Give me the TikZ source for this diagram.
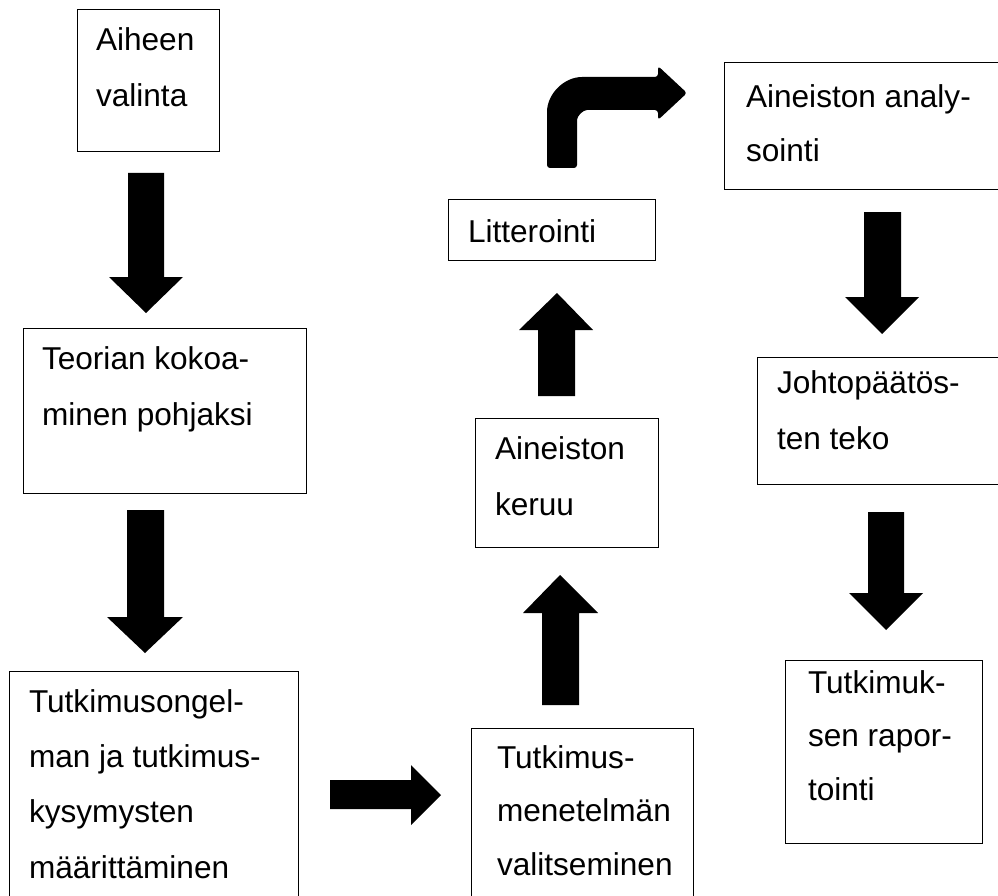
\documentclass[tikz,border=0pt]{standalone}
\usepackage{fontspec}
\setmainfont{Liberation Sans}
\begin{document}
\begin{tikzpicture}[x=1pt,y=-1pt,
  box/.style={draw=black, line width=1pt, inner sep=0pt, outer sep=0pt, anchor=north west},
  lbl/.style={anchor=north west, inner sep=0pt, outer sep=0pt, align=left},
  blk/.style={fill=black, draw=none}]
\useasboundingbox (0,0) rectangle (998,896);
\clip (0,0) rectangle (998,896);
% boxes
\node[box, minimum width=142pt, minimum height=142pt] (b1) at (77,10) {};
\node[box, minimum width=283pt, minimum height=165pt] (b2) at (23,328) {};
\node[box, minimum width=289pt, minimum height=240pt] (b3) at (9,671) {};
\node[box, minimum width=222pt, minimum height=190pt] (b4) at (471,728) {};
\node[box, minimum width=183pt, minimum height=129pt] (b5) at (475,418) {};
\node[box, minimum width=207pt, minimum height=60pt] (b6) at (448,200) {};
\node[box, minimum width=290pt, minimum height=127pt] (b7) at (724,63) {};
\node[box, minimum width=260pt, minimum height=127pt] (b8) at (757,357) {};
\node[box, minimum width=197pt, minimum height=183pt] (b9) at (785,660) {};
% texts
\node[lbl, font=\fontsize{31.6}{56}\selectfont] (t1) at (96,27.4) {Aiheen\\valinta};
\node[lbl, font=\fontsize{31.6}{56}\selectfont] (t2) at (42,346.4) {Teorian kokoa-\\minen pohjaksi};
\node[lbl, font=\fontsize{31.6}{55.3}\selectfont] (t3) at (29,689.4) {Tutkimusongel-\\man ja tutkimus-\\kysymysten\\määrittäminen};
\node[lbl, font=\fontsize{31.6}{53.5}\selectfont] (t4) at (497,745.4) {Tutkimus-\\menetelmän\\valitseminen};
\node[lbl, font=\fontsize{31.6}{56}\selectfont] (t5) at (495,436.4) {Aineiston\\keruu};
\node[lbl, font=\fontsize{31.6}{56}\selectfont] (t6) at (468,219.4) {Litterointi};
\node[lbl, font=\fontsize{31.6}{54}\selectfont] (t7) at (746,84.4) {Aineiston analy-\\sointi};
\node[lbl, font=\fontsize{31.6}{56}\selectfont] (t8) at (777,370.4) {Johtopäätös-\\ten teko};
\node[lbl, font=\fontsize{31.6}{53.5}\selectfont] (t9) at (808,670.4) {Tutkimuk-\\sen rapor-\\tointi};
% block arrows
\fill[blk] (128,173) -- (164,173) -- (164,277) -- (183,277) -- (146,313) -- (109,277) -- (128,277) -- cycle;
\fill[blk] (127,510) -- (164,510) -- (164,617) -- (183,617) -- (145,653) -- (107,617) -- (127,617) -- cycle;
\fill[blk] (330,780) -- (411,780) -- (411,765) -- (441,795) -- (411,825) -- (411,809) -- (330,809) -- cycle;
\fill[blk] (542,705) -- (579,705) -- (579,613) -- (598,613) -- (560,575) -- (523,613) -- (542,613) -- cycle;
\fill[blk] (538,396) -- (575,396) -- (575,330) -- (593,330) -- (557,293) -- (519,330) -- (538,330) -- cycle;
\fill[blk] (864,212) -- (901,212) -- (901,297) -- (919,297) -- (882,334) -- (845,297) -- (864,297) -- cycle;
\fill[blk] (868,512) -- (904,512) -- (904,593) -- (923,593) -- (886,630) -- (849,593) -- (868,593) -- cycle;
% bent arrow
\fill[blk, rounded corners=3pt] (547,168) -- (547,115) .. controls (547,94) and (564,77) .. (585,77) -- (658,77) -- (658,66) -- (687,93) -- (658,120) -- (658,110) -- (590,110) .. controls (583,110) and (577,116) .. (577,123) -- (577,168) -- cycle;
\end{tikzpicture}
\end{document}
